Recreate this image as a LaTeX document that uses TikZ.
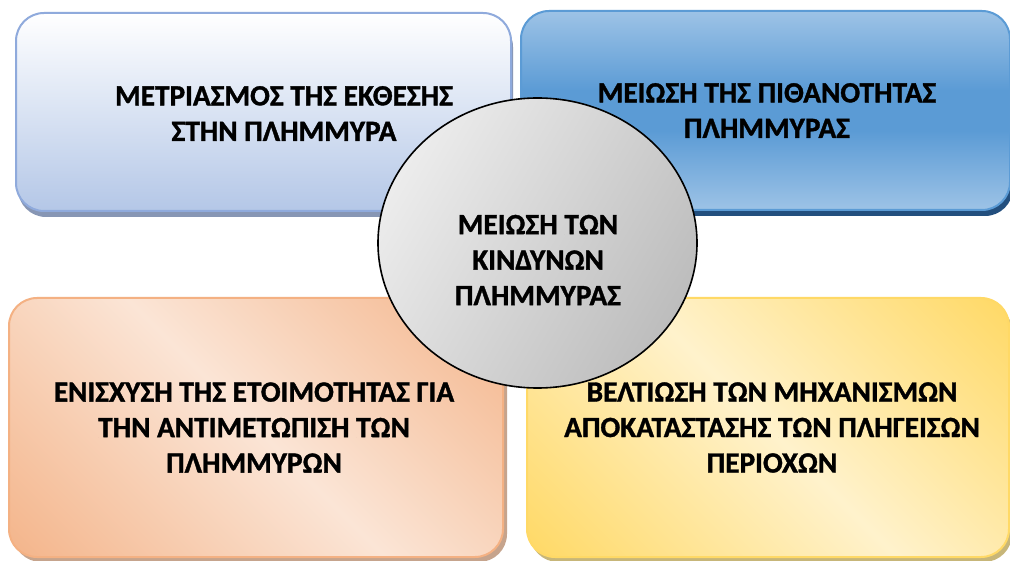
\documentclass[tikz,border=0pt]{standalone}
\usepackage{fontspec}
\setmainfont{Carlito}[BoldFont={Carlito Bold}]
\newfontfamily\boxfont{Carlito Bold}[FakeBold=1.2]
\usetikzlibrary{shapes.geometric,shadows}
\definecolor{tlborder}{HTML}{8FAADC}
\definecolor{tlbot}{HTML}{B4C7E7}
\definecolor{tlshadow}{HTML}{8796B4}
\definecolor{trborder}{HTML}{5B9BD5}
\definecolor{trlight}{HTML}{9DC3E6}
\definecolor{trdark}{HTML}{5B9BD5}
\definecolor{trshadow}{HTML}{234F7E}
\definecolor{blborder}{HTML}{F4B183}
\definecolor{bldark}{HTML}{F4B58B}
\definecolor{bllight}{HTML}{FBE5D6}
\definecolor{blshadow}{HTML}{C6A48D}
\definecolor{brborder}{HTML}{FFD966}
\definecolor{brdark}{HTML}{FFD966}
\definecolor{brlight}{HTML}{FFF2CC}
\definecolor{brshadow}{HTML}{C7B679}
\definecolor{glight}{HTML}{ECECEC}
\definecolor{gdark}{HTML}{BDBDBD}
\pgfdeclareverticalshading{bluemid}{100bp}{color(0bp)=(trlight); color(25bp)=(trlight); color(45bp)=(trdark); color(55bp)=(trdark); color(75bp)=(trlight); color(100bp)=(trlight)}
\pgfdeclarehorizontalshading{orangediag}{100bp}{color(0bp)=(bldark); color(15bp)=(bldark); color(50bp)=(bllight); color(85bp)=(bldark); color(100bp)=(bldark)}
\pgfdeclarehorizontalshading{yellowdiag}{100bp}{color(0bp)=(brdark); color(15bp)=(brdark); color(50bp)=(brlight); color(85bp)=(brdark); color(100bp)=(brdark)}
\pgfdeclarehorizontalshading{graycirc}{100bp}{color(0bp)=(glight); color(25bp)=(glight); color(75bp)=(gdark); color(100bp)=(gdark)}
\begin{document}
\begin{tikzpicture}[x=1pt,y=1pt,
  boxstyle/.style={rectangle, rounded corners=28pt, line width=2pt, inner sep=0pt, anchor=north west},
  txt/.style={align=center, font=\boxfont\fontsize{29.3}{35.5}\selectfont, inner sep=0pt}]
\useasboundingbox (0,0) rectangle (1010,-561);
\fill[white] (0,0) rectangle (1010,-561);
% top left
\node[boxstyle, draw=tlborder, top color=white, bottom color=tlbot,
  minimum width=495pt, minimum height=198pt,
  drop shadow={shadow xshift=2pt, shadow yshift=-6pt, fill=tlshadow, opacity=1}] (tl) at (15,-12) {};
% top right
\node[boxstyle, draw=trborder, shading=bluemid,
  minimum width=489pt, minimum height=199pt,
  drop shadow={shadow xshift=3pt, shadow yshift=-6pt, fill=trshadow, opacity=1}] (tr) at (520,-10) {};
% bottom left
\node[boxstyle, draw=blborder, shading=orangediag, shading angle=45,
  minimum width=494pt, minimum height=259pt,
  drop shadow={shadow xshift=4pt, shadow yshift=-5pt, fill=blshadow, opacity=1}] (bl) at (8,-297) {};
% bottom right
\node[boxstyle, draw=brborder, shading=yellowdiag, shading angle=45,
  minimum width=482pt, minimum height=259pt,
  drop shadow={shadow xshift=3pt, shadow yshift=-5pt, fill=brshadow, opacity=1}] (br) at (526,-297) {};
% texts
\node[txt] (tltext) at (284,-113.5) {ΜΕΤΡΙΑΣΜΟΣ ΤΗΣ ΕΚΘΕΣΗΣ\\ΣΤΗΝ ΠΛΗΜΜΥΡΑ};
\node[txt] (trtext) at (767,-110.5) {ΜΕΙΩΣΗ ΤΗΣ ΠΙΘΑΝΟΤΗΤΑΣ\\ΠΛΗΜΜΥΡΑΣ};
\node[txt] (bltext) at (254,-427.5) {ΕΝΙΣΧΥΣΗ ΤΗΣ ΕΤΟΙΜΟΤΗΤΑΣ ΓΙΑ\\ΤΗΝ ΑΝΤΙΜΕΤΩΠΙΣΗ ΤΩΝ\\ΠΛΗΜΜΥΡΩΝ};
\node[txt] (brtext) at (772,-427.5) {ΒΕΛΤΙΩΣΗ ΤΩΝ ΜΗΧΑΝΙΣΜΩΝ\\ΑΠΟΚΑΤΑΣΤΑΣΗΣ ΤΩΝ ΠΛΗΓΕΙΣΩΝ\\ΠΕΡΙΟΧΩΝ};
% centre ellipse
\node[ellipse, draw=black, line width=1.6pt, shading=graycirc, shading angle=-30,
  minimum width=319pt, minimum height=290pt, inner sep=0pt] (c) at (537.5,-243) {};
\node[txt] (ctext) at (538,-260) {ΜΕΙΩΣΗ ΤΩΝ\\ΚΙΝΔΥΝΩΝ\\ΠΛΗΜΜΥΡΑΣ};
\end{tikzpicture}
\end{document}
